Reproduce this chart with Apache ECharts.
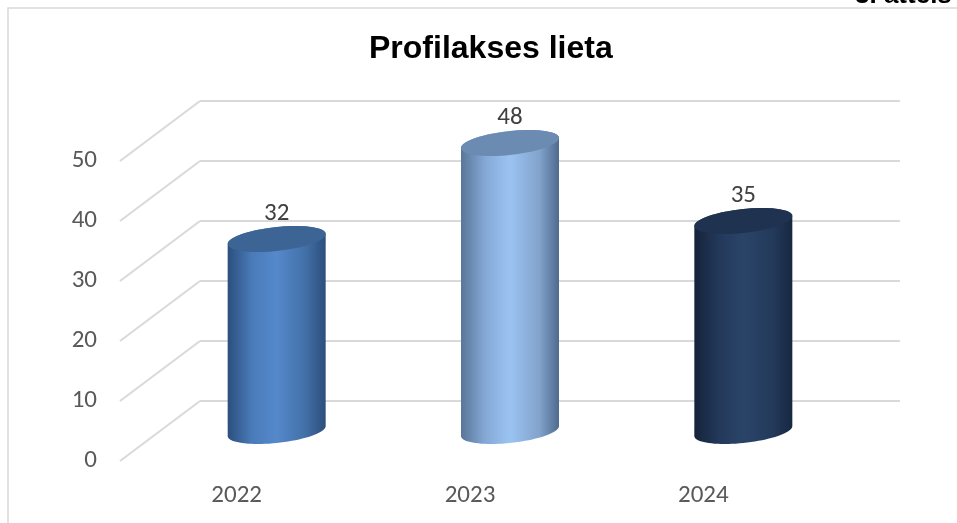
<!DOCTYPE html>
<html>
<head>
<meta charset="utf-8">
<title>Profilakses lieta</title>
<script src="https://cdn.jsdelivr.net/npm/echarts@6.0.0/dist/echarts.min.js"></script>
<style>
  html, body { margin: 0; padding: 0; background: #fff; }
  #chart { width: 957px; height: 523px; }
</style>
</head>
<body>
<div id="chart"></div>
<script>
// data
const years = ['2022', '2023', '2024'];
const cases = [32, 48, 35];
const yTicks = [0, 10, 20, 30, 40, 50];

// cylinder colours (edge / middle / edge) and cap
const bodyColors = [
    ['#2b4f7d', '#4a7bb9', '#5589cb', '#426fa7', '#2c4e7b'],
    ['#5a7699', '#85a9d6', '#9bc3f2', '#82a3cc', '#4f6a8e'],
    ['#15233a', '#23395a', '#2a4468', '#233a5b', '#172740']
];
const capColors = ['#3c6495', '#6c8bb2', '#1f3350'];

// back wall -> front edge of the floor
const DEPTH_X = -80;
const DEPTH_Y = 60;
const labelFont = 'Carlito, "Open Sans", sans-serif';

const chart = echarts.init(document.getElementById('chart'));

function ellipsePts(cx, cy, rx, ry, sh, from, to) {
    const pts = [];
    const n = 40;
    for (let k = 0; k <= n; k++) {
        const t = from + (to - from) * k / n;
        pts.push([cx + rx * Math.cos(t), cy + ry * Math.sin(t) - sh * Math.cos(t)]);
    }
    return pts;
}

function renderCylinder(params, api) {
    const i = api.value(0);
    const v = api.value(1);
    const top = api.coord([i, v]);
    const base = api.coord([i, 0]);
    const cx = top[0] + DEPTH_X / 2;
    const ty = top[1] + DEPTH_Y / 2;
    const by = base[1] + DEPTH_Y / 2;
    const rx = api.size([1, 0])[0] * 0.21;
    const ry = 12, sh = 5;
    const c = bodyColors[i];
    const body = ellipsePts(cx, ty, rx, ry, sh, 0, -Math.PI)
        .concat(ellipsePts(cx, by, rx, ry, sh, Math.PI, 0));
    return {
        type: 'group',
        children: [
            {
                type: 'polygon',
                shape: { points: body },
                style: {
                    fill: new echarts.graphic.LinearGradient(0, 0, 1, 0, [
                        { offset: 0, color: c[0] },
                        { offset: 0.25, color: c[1] },
                        { offset: 0.5, color: c[2] },
                        { offset: 0.8, color: c[3] },
                        { offset: 1, color: c[4] }
                    ])
                }
            },
            {
                type: 'polygon',
                shape: { points: ellipsePts(cx, ty, rx, ry, sh, 0, Math.PI * 2) },
                style: { fill: capColors[i] }
            },
            {
                type: 'text',
                style: {
                    text: String(v),
                    x: cx,
                    y: ty - ry - 1,
                    align: 'center',
                    verticalAlign: 'bottom',
                    fontFamily: labelFont,
                    fontSize: 25,
                    fill: '#404040'
                }
            }
        ]
    };
}

function renderDiagonal(params, api) {
    const y = api.coord([0, api.value(1)])[1];
    const x0 = params.coordSys.x;
    return {
        type: 'line',
        shape: { x1: x0, y1: y, x2: x0 + DEPTH_X, y2: y + DEPTH_Y },
        style: { stroke: '#d9d9d9', lineWidth: 2 }
    };
}

const option = {
    backgroundColor: '#fff',
    animation: false,
    title: {
        text: 'Profilakses lieta',
        left: 364,
        top: 28,
        textStyle: { fontFamily: 'Liberation Sans, Arial', fontSize: 32, fontWeight: 'bold', color: '#000' }
    },
    graphic: [
        {
            type: 'rect',
            shape: { x: 8, y: 8, width: 970, height: 540 },
            style: { fill: 'none', stroke: '#d9d9d9', lineWidth: 1.5 },
            z: -1
        },
        {
            type: 'text',
            x: 855,
            y: 9,
            style: {
                text: '3. attēls',
                fontFamily: 'Liberation Sans, Arial',
                fontSize: 26,
                fontWeight: 'bold',
                fill: '#000',
                verticalAlign: 'bottom'
            }
        }
    ],
    grid: [
        { left: 200, right: 57, top: 101, height: 300 },
        { left: 120, right: 137, top: 161, height: 300 }
    ],
    xAxis: [
        {
            type: 'category', gridIndex: 0, data: years,
            axisLine: { show: false }, axisTick: { show: false }, axisLabel: { show: false }
        },
        {
            type: 'category', gridIndex: 1, data: years,
            axisLine: { show: false }, axisTick: { show: false },
            axisLabel: { margin: 22, fontFamily: labelFont, fontSize: 25, color: '#595959' }
        }
    ],
    yAxis: [
        {
            type: 'value', gridIndex: 0, min: 0, max: 50, interval: 10,
            axisLine: { show: false }, axisTick: { show: false }, axisLabel: { show: false },
            splitLine: { lineStyle: { color: '#d9d9d9', width: 2 } }
        },
        {
            type: 'value', gridIndex: 1, min: 0, max: 50, interval: 10,
            axisLine: { show: false }, axisTick: { show: false }, splitLine: { show: false },
            axisLabel: { margin: 23, fontFamily: labelFont, fontSize: 25, color: '#595959' }
        }
    ],
    series: [
        {
            type: 'custom',
            name: 'grid',
            xAxisIndex: 0, yAxisIndex: 0,
            renderItem: renderDiagonal,
            data: yTicks.map(v => [0, v]),
            silent: true,
            z: 1
        },
        {
            type: 'custom',
            name: 'Profilakses lieta',
            xAxisIndex: 0, yAxisIndex: 0,
            renderItem: renderCylinder,
            data: cases.map((v, i) => [i, v]),
            z: 3
        }
    ]
};

chart.setOption(option);
window.addEventListener('resize', () => chart.resize());
</script>
</body>
</html>
